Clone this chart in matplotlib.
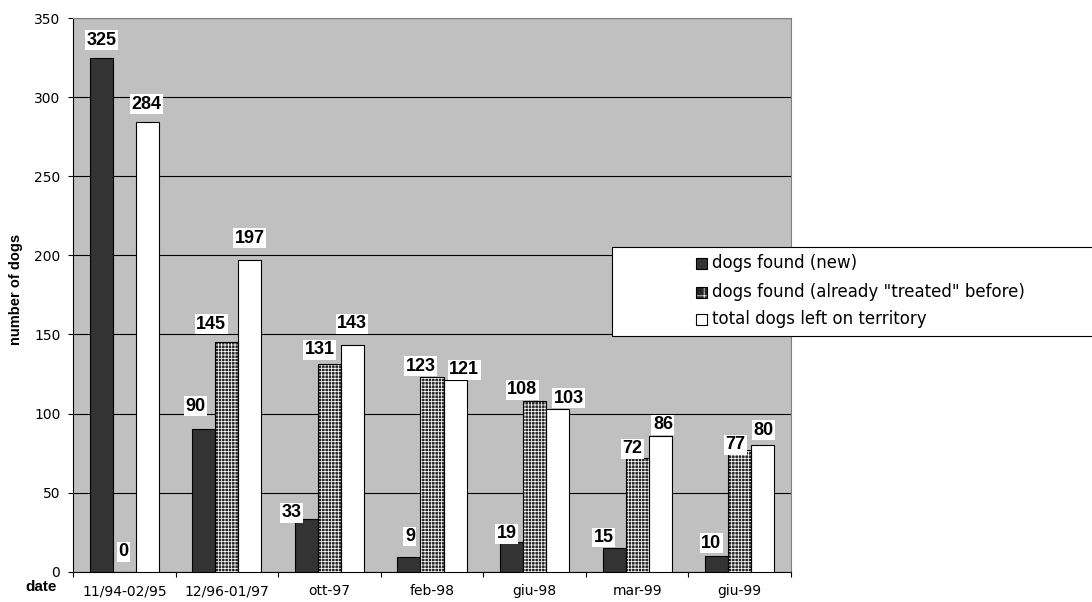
import matplotlib
matplotlib.use('Agg')
import matplotlib.pyplot as plt
from matplotlib.patches import Rectangle
import numpy as np

# ---------------- data ----------------
categories = ['11/94-02/95', '12/96-01/97', 'ott-97', 'feb-98', 'giu-98', 'mar-99', 'giu-99']
new_dogs = [325, 90, 33, 9, 19, 15, 10]
treated_dogs = [0, 145, 131, 123, 108, 72, 77]
total_dogs = [284, 197, 143, 121, 103, 86, 80]
series_names = ['dogs found (new)',
                'dogs found (already "treated" before)',
                'total dogs left on territory']
yticks = [0, 50, 100, 150, 200, 250, 300, 350]

# label offsets (pixels) relative to bar top centre
new_off = [(0.5, 17.5), (-8, 23), (-14.5, 6.5), (1, 21), (-4.7, 7.7), (-10.3, 10.5), (-5.2, 12.6)]
treated_off = [(-0.5, 20), (-15.5, 18), (-9.5, 14.5), (-11.5, 11), (-12.2, 11), (-4.8, 8.8), (-4.4, 5)]
total_off = [(-0.5, 18), (-0.5, 22), (-0.5, 21.5), (9, 10.6), (11.3, 10.7), (2.7, 10.7), (1, 15)]

W, H = 1092, 602
plt.rcParams['hatch.linewidth'] = 0.55
fig = plt.figure(figsize=(W / 100, H / 100), dpi=100)
fig.patch.set_facecolor('white')

def fx(px):
    return px / W

def fy(py):
    return 1 - py / H

ax = fig.add_axes([fx(73), fy(571.7), (791 - 73) / W, (571.7 - 18) / H])
ax.set_facecolor('#C0C0C0')

x = np.arange(len(categories))
bw = 0.225
dark = '#333333'
hatch_base = '#262626'

# new dogs
ax.bar(x - bw, new_dogs, bw, color=dark, edgecolor='black', linewidth=0.8, zorder=3)
# treated (hatched dark with white grid)
ax.bar(x, treated_dogs, bw, color=hatch_base, edgecolor='white', hatch='+++++', linewidth=0, zorder=3)
ax.bar(x, treated_dogs, bw, fill=False, edgecolor='black', linewidth=0.8, zorder=3.1)
# total
ax.bar(x + bw, total_dogs, bw, color='white', edgecolor='black', linewidth=0.8, zorder=3)

lab_font = dict(family='Liberation Sans', weight='bold', size=13)
for vals, offs, dx0 in [(new_dogs, new_off, -bw), (treated_dogs, treated_off, 0), (total_dogs, total_off, bw)]:
    for i, (v, (ox, oy)) in enumerate(zip(vals, offs)):
        ax.annotate(str(v), xy=(x[i] + dx0, v), xytext=(ox, oy), textcoords='offset pixels',
                    ha='center', va='center', zorder=6, **lab_font,
                    bbox=dict(boxstyle='square,pad=0.08', fc='white', ec='none'))

ax.set_xlim(-0.5, len(categories) - 0.5)
ax.set_ylim(0, 350)
ax.set_yticks(yticks)
ax.set_xticks(x)
ax.set_xticklabels(categories)
ax.set_xticks(np.arange(-0.5, len(categories), 1), minor=True)
ax.tick_params(axis='x', which='major', length=0, pad=9, labelsize=10)
ax.tick_params(axis='x', which='minor', length=3.6, width=0.8, direction='out')
ax.tick_params(axis='y', length=3.6, width=0.8, direction='out', pad=5.5, labelsize=10)
for lab in ax.get_xticklabels() + ax.get_yticklabels():
    lab.set_family('DejaVu Sans')

ax.set_axisbelow(True)
ax.yaxis.grid(True, color='black', linewidth=0.8)
for s in ['top', 'right']:
    ax.spines[s].set_color('#808080')
    ax.spines[s].set_linewidth(0.8)
for s in ['left', 'bottom']:
    ax.spines[s].set_color('black')
    ax.spines[s].set_linewidth(0.8)

fig.text(fx(16), fy(289), 'number of dogs', rotation=90, ha='center', va='center',
         family='Liberation Sans', weight='bold', size=10.5)
fig.text(fx(25), fy(587), 'date', ha='left', va='center',
         family='Liberation Sans', weight='bold', size=11)

# ---------------- legend (manual) ----------------
fig.patches.append(Rectangle((fx(612), fy(336)), fx(1100 - 612), (336 - 247) / H,
                             transform=fig.transFigure, facecolor='white', edgecolor='black',
                             linewidth=0.8, zorder=1))
rows_y = [263, 292, 319]
sq = 11
styles = [dict(facecolor=dark, hatch=None), dict(facecolor=hatch_base, hatch='++'),
          dict(facecolor='white', hatch=None)]
for name, ry, st in zip(series_names, rows_y, styles):
    if st['hatch']:
        fig.patches.append(Rectangle((fx(696), fy(ry + sq / 2)), sq / W, sq / H, transform=fig.transFigure,
                                     facecolor=st['facecolor'], edgecolor='white', hatch=st['hatch'],
                                     linewidth=0, zorder=2))
        fig.patches.append(Rectangle((fx(696), fy(ry + sq / 2)), sq / W, sq / H, transform=fig.transFigure,
                                     fill=False, edgecolor='black', linewidth=0.8, zorder=3))
    else:
        fig.patches.append(Rectangle((fx(696), fy(ry + sq / 2)), sq / W, sq / H, transform=fig.transFigure,
                                     facecolor=st['facecolor'], edgecolor='black', linewidth=0.8, zorder=2))
    fig.text(fx(712), fy(ry), name, ha='left', va='center', family='DejaVu Sans', size=12, zorder=4)

fig.savefig('out.png', dpi=100)
